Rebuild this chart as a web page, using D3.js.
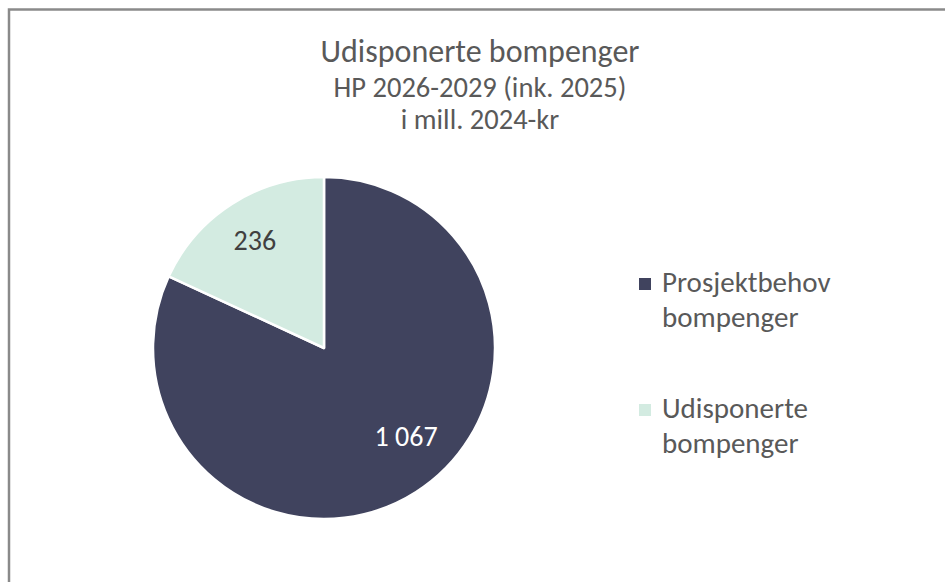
<!DOCTYPE html>
<html>
<head>
<meta charset="utf-8">
<script src="https://cdn.jsdelivr.net/npm/d3@7"></script>
<style>
  html, body { margin: 0; padding: 0; background: #fff; }
  svg { display: block; }
  text { font-family: Carlito, Calibri, "Open Sans", sans-serif; }
</style>
</head>
<body>
<svg id="chart" width="945" height="582"></svg>
<script>
const categories = ["Prosjektbehov bompenger", "Udisponerte bompenger"];
const legendLines = [["Prosjektbehov", "bompenger"], ["Udisponerte", "bompenger"]];
const values = [1067, 236];
const valueLabels = ["1 067", "236"];
const colors = ["#40435E", "#D3EBE1"];
const labelColors = ["#FFFFFF", "#404040"];
const titleLines = ["Udisponerte bompenger", "HP 2026-2029 (ink. 2025)", "i mill. 2024-kr"];

const svg = d3.select("#chart");
const W = 945, H = 582;

// chart border (right/bottom edges fall outside the view)
svg.append("rect")
  .attr("x", 9).attr("y", 9.5)
  .attr("width", W + 20).attr("height", H + 20)
  .attr("fill", "#fff")
  .attr("stroke", "#8a8a8a").attr("stroke-width", 2.5);

// title
const titleSizes = [32, 28.5, 28.5];
const titleBaselines = [62, 97, 129];
svg.append("g").selectAll("text").data(titleLines).join("text")
  .attr("x", 480)
  .attr("y", (d, i) => titleBaselines[i])
  .attr("text-anchor", "middle")
  .attr("font-size", (d, i) => titleSizes[i])
  .attr("fill", "#595959")
  .text(d => d);

// pie
const cx = 324, cy = 348, R = 171;
const pie = d3.pie().sort(null).value(d => d.v);
const data = pie(values.map((v, i) => ({ v, i })));
const arc = d3.arc().innerRadius(0).outerRadius(R);
const labelArc = d3.arc().innerRadius(R * 0.75).outerRadius(R * 0.75);

const g = svg.append("g").attr("transform", `translate(${cx},${cy})`);
g.selectAll("path").data(data).join("path")
  .attr("d", arc)
  .attr("fill", d => colors[d.data.i])
  .attr("stroke", "#fff")
  .attr("stroke-width", 2.5)
  .attr("stroke-linejoin", "round");

const labelNudge = [[13, -20], [0, 0]];
g.selectAll("text.lbl").data(data).join("text")
  .attr("class", "lbl")
  .attr("transform", d => {
    const c = labelArc.centroid(d);
    return `translate(${c[0] + labelNudge[d.data.i][0]},${c[1] + labelNudge[d.data.i][1]})`;
  })
  .attr("text-anchor", "middle")
  .attr("dy", "0.35em")
  .attr("font-size", 28)
  .attr("fill", d => labelColors[d.data.i])
  .text(d => valueLabels[d.data.i]);

// legend
const leg = svg.append("g").attr("transform", "translate(639,278)");
const items = leg.selectAll("g").data(categories).join("g")
  .attr("transform", (d, i) => `translate(0,${i * 126})`);
items.append("rect")
  .attr("width", 12).attr("height", 12)
  .attr("fill", (d, i) => colors[i]);
items.each(function(d, i) {
  d3.select(this).selectAll("text").data(legendLines[i]).join("text")
    .attr("x", 23)
    .attr("y", (t, j) => 14 + j * 35)
    .attr("font-size", 29)
    .attr("fill", "#595959")
    .text(t => t);
});
</script>
</body>
</html>
